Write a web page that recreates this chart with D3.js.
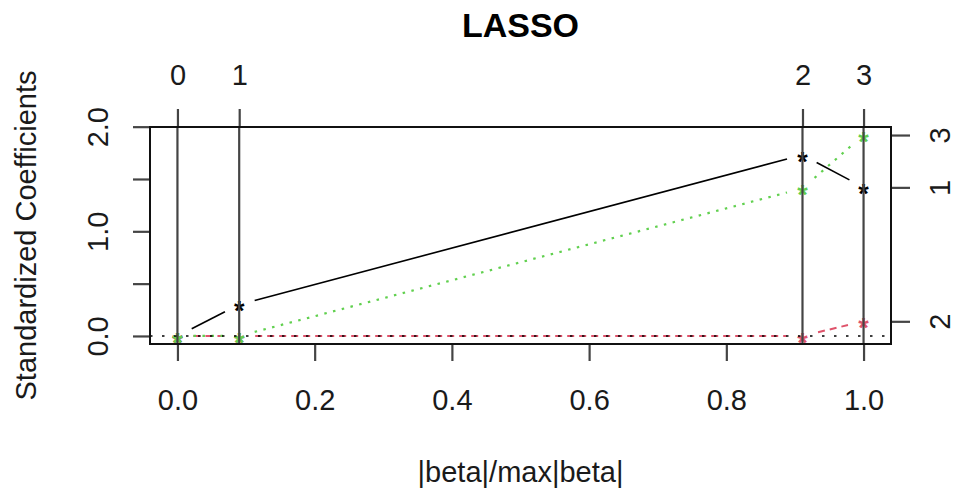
<!DOCTYPE html>
<html><head><meta charset="utf-8">
<script src="https://cdn.jsdelivr.net/npm/d3@7"></script>
<style>
body{margin:0;background:#fff}
svg{display:block}
text{font-family:"Liberation Sans",Arial,Helvetica,sans-serif;fill:#1a1a1a}
</style>
</head><body>
<svg id="c" width="957" height="491"></svg>
<script>
// ---- data ----
const steps = [0, 0.09, 0.911, 1.0];
const stepLabels = ["0", "1", "2", "3"];
const varLabels = ["1", "2", "3"];
const coef1 = [0, 0.30, 1.73, 1.42];
const coef2 = [0, 0, 0, 0.14];
const coef3 = [0, 0, 1.41, 1.92];
const xTicks = [0, 0.2, 0.4, 0.6, 0.8, 1.0];
const xTickLabels = ["0.0", "0.2", "0.4", "0.6", "0.8", "1.0"];
const yTicks = [0, 0.5, 1.0, 1.5, 2.0];
const yTickLabels = ["0.0", "", "1.0", "", "2.0"];
const titleText = "LASSO";
const xTitle = "|beta|/max|beta|";
const yTitle = "Standardized Coefficients";

const series = [
  {values: coef1, color: "#000000", dash: null, width: 1.6, label: varLabels[0]},
  {values: coef2, color: "#DF536B", dash: "7,5", width: 2.0, label: varLabels[1]},
  {values: coef3, color: "#61D04F", dash: "2.5,6.5", width: 2.2, label: varLabels[2]}
];

// ---- layout ----
const L = 150, R = 891, T = 127, B = 344;
const FS = 29;
const svg = d3.select("#c");

const xs = d3.scaleLinear().domain([-0.04, 1.04]).range([L, R]);
const allV = [].concat(coef1, coef2, coef3);
const vmin = d3.min(allV), vmax = d3.max(allV), vr = vmax - vmin;
const ys = d3.scaleLinear().domain([vmin - 0.04 * vr, vmax + 0.04 * vr]).range([B, T]);

const tickCol = "#444", tickW = 2.2;

function styleAxis(g) {
  g.select(".domain").remove();
  g.selectAll(".tick line").attr("stroke", tickCol).attr("stroke-width", tickW);
  g.selectAll(".tick text").style("font-size", FS + "px").attr("fill", "#1a1a1a");
}

// bottom axis
const gb = svg.append("g").attr("transform", `translate(0,${B})`)
  .call(d3.axisBottom(xs).tickValues(xTicks).tickFormat((d, i) => xTickLabels[i]).tickSize(17).tickSizeOuter(0));
styleAxis(gb);
gb.selectAll(".tick text").attr("dy", null).attr("y", 66);

// left axis
const gl = svg.append("g").attr("transform", `translate(${L},0)`)
  .call(d3.axisLeft(ys).tickValues(yTicks).tickFormat((d, i) => yTickLabels[i]).tickSize(17).tickSizeOuter(0));
styleAxis(gl);
gl.selectAll(".tick text").attr("x", null).attr("dy", null).attr("text-anchor", "middle")
  .attr("transform", "translate(-42,0) rotate(-90)");

// top axis (steps)
const gt = svg.append("g").attr("transform", `translate(0,${T})`)
  .call(d3.axisTop(xs).tickValues(steps).tickFormat((d, i) => stepLabels[i]).tickSize(18).tickSizeOuter(0));
styleAxis(gt);
gt.selectAll(".tick text").attr("dy", null).attr("y", -42);

// right axis (variable labels at final coefficients)
const finals = series.map(s => s.values[s.values.length - 1]);
const gr = svg.append("g").attr("transform", `translate(${R},0)`)
  .call(d3.axisRight(ys).tickValues(finals).tickFormat((d, i) => series[i].label).tickSize(19).tickSizeOuter(0));
styleAxis(gr);
gr.selectAll(".tick text").attr("x", null).attr("dy", null).attr("text-anchor", "middle")
  .attr("transform", "translate(59,0) rotate(-90)");

// data lines, type "b" (gaps around points)
const gap = 16;
const gLines = svg.append("g");
series.forEach(s => {
  for (let i = 0; i < steps.length - 1; i++) {
    const x0 = xs(steps[i]), y0 = ys(s.values[i]);
    const x1 = xs(steps[i + 1]), y1 = ys(s.values[i + 1]);
    const dx = x1 - x0, dy = y1 - y0, len = Math.hypot(dx, dy);
    if (len <= 2 * gap) continue;
    const ux = dx / len, uy = dy / len;
    gLines.append("line")
      .attr("x1", x0 + ux * gap).attr("y1", y0 + uy * gap)
      .attr("x2", x1 - ux * gap).attr("y2", y1 - uy * gap)
      .attr("stroke", s.color).attr("stroke-width", s.width)
      .attr("stroke-dasharray", s.dash);
  }
});

// points "*"
const gPts = svg.append("g");
series.forEach(s => {
  gPts.selectAll(null).data(steps.map((st, i) => [st, s.values[i]])).enter()
    .append("text")
    .attr("x", d => xs(d[0])).attr("y", d => ys(d[1]))
    .attr("dy", "0.58em").attr("text-anchor", "middle")
    .style("font-size", "27px").style("font-weight", "bold").style("fill", s.color)
    .text("*");
});

// vertical lines at steps
svg.append("g").selectAll("line").data(steps).enter().append("line")
  .attr("x1", d => xs(d)).attr("x2", d => xs(d))
  .attr("y1", T).attr("y2", B)
  .attr("stroke", tickCol).attr("stroke-width", tickW);

// horizontal dotted zero line
svg.append("line")
  .attr("x1", L).attr("x2", R).attr("y1", ys(0)).attr("y2", ys(0))
  .attr("stroke", "#000").attr("stroke-width", 1.6).attr("stroke-dasharray", "2.5,9.5");

// box
svg.append("rect").attr("x", L).attr("y", T).attr("width", R - L).attr("height", B - T)
  .attr("fill", "none").attr("stroke", "#111").attr("stroke-width", 2);

// titles
svg.append("text").attr("x", (L + R) / 2).attr("y", 37).attr("text-anchor", "middle")
  .style("font-size", "34px").style("font-weight", "bold").style("fill", "#000").text(titleText);
svg.append("text").attr("x", (L + R) / 2).attr("y", 482).attr("text-anchor", "middle")
  .style("font-size", FS + "px").text(xTitle);
svg.append("text").attr("transform", `translate(36,${(T + B) / 2}) rotate(-90)`).attr("text-anchor", "middle")
  .style("font-size", FS + "px").text(yTitle);
</script>
</body></html>
